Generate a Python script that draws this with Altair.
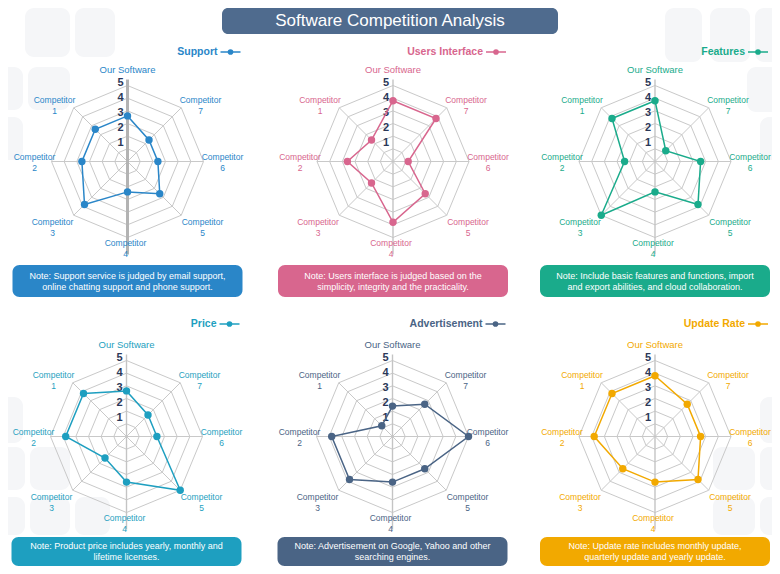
import math
import altair as alt
import pandas as pd

# ---------------- data ----------------
TITLE = "Software Competition Analysis"
AXES = ["Our Software", "Competitor\n1", "Competitor\n2", "Competitor\n3",
        "Competitor\n4", "Competitor\n5", "Competitor\n6", "Competitor\n7"]
SERIES = ["Support", "Users Interface", "Features", "Price", "Advertisement", "Update Rate"]
support = [3, 3, 3, 4, 2, 3, 2, 2]
users_interface = [4, 2, 3, 2, 4, 3, 1, 4]
features = [4, 4, 2, 5, 2, 4, 3, 1]
price = [3, 4, 4, 2, 3, 5, 2, 2]
advertisement = [2, 1, 4, 4, 3, 3, 5, 3]
update_rate = [4, 4, 4, 3, 3, 4, 3, 3]
VALUES = [support, users_interface, features, price, advertisement, update_rate]
RADIAL_TICKS = [1, 2, 3, 4, 5]
NOTES = [
    "Note: Support service is judged by email support,\nonline chatting support and phone support.",
    "Note: Users interface is judged based on the\nsimplicity, integrity and the practicality.",
    "Note: Include basic features and functions, import\nand export abilities, and cloud collaboration.",
    "Note: Product price includes yearly, monthly and\nlifetime licenses.",
    "Note: Advertisement on Google, Yahoo and other\nsearching engines.",
    "Note: Update rate includes monthly update,\nquarterly update and yearly update.",
]

# ---------------- styles / layout ----------------
COLORS = ["#2a86c8", "#d8668e", "#1aab8b", "#1e9fc0", "#4a6485", "#f2a900"]
CENTERS = [(127.5, 161.5), (393, 161.5), (655, 161.5),
           (126.5, 436.5), (392.5, 436.5), (655, 436.5)]
NOTE_Y = [(265, 297), (265, 297), (265, 297), (537, 566), (537, 566), (537, 566)]
LEG_Y = [52, 52, 52, 324, 324, 324]
R = 76.0
U = R / 5.0
NRINGS = 6
LABEL_OFF = [(0, -92), (-73, -56), (-93, 1), (-75, 66), (-2, 87), (75, 66), (95, 1), (73, -56)]
LAB_LH = 11.5
NOTE_LH = 11
FONT = "Liberation Sans"
GRID = "#c9c9c9"

DECO = [(25, 8, 70, 57), (75, 8, 115, 57), (0, 67, 23, 110), (28, 67, 70, 110), (0, 117, 23, 160),
        (665, 8, 702, 62), (710, 8, 750, 62), (755, 8, 780, 62), (747, 67, 780, 112), (760, 117, 780, 160),
        (760, 397, 780, 443), (713, 447, 755, 490), (760, 447, 780, 490), (713, 497, 755, 535),
        (760, 497, 780, 535),
        (0, 397, 23, 443), (0, 447, 25, 490), (30, 447, 70, 490), (0, 497, 25, 535), (30, 497, 70, 535),
        (75, 497, 110, 535)]


def ang(k):
    return -k * math.pi / 4.0


# ---------------- tables ----------------
deco_df = pd.DataFrame(DECO, columns=["x", "y", "x2", "y2"])

grid_rows, spoke_rows, vert_rows, poly_rows, pt_rows = [], [], [], [], []
tick_rows, lab_rows, leg_rows, note_rows = [], [], [], []
for p, (name, vals) in enumerate(zip(SERIES, VALUES)):
    cx, cy = CENTERS[p]
    col = COLORS[p]
    for j in range(1, NRINGS + 1):
        r = R * j / NRINGS
        for i in range(9):
            k = i % 8
            grid_rows.append(dict(ring=f"{p}-{j}", i=i, x=cx + r * math.sin(ang(k)),
                                  y=cy - r * math.cos(ang(k))))
    for k in [1, 2, 3, 5, 6, 7]:
        spoke_rows.append(dict(x=cx, y=cy, x2=cx + R * math.sin(ang(k)), y2=cy - R * math.cos(ang(k))))
    vert_rows.append(dict(x=cx, y=cy - 82, y2=cy + 93, sw=3 if name == "Support" else 1.4,
                          c="#b3b3b3" if name == "Support" else "#c4c4c4"))
    for i in range(9):
        k = i % 8
        v = vals[k]
        row = dict(panel=name, i=i, x=cx + v * U * math.sin(ang(k)),
                   y=cy - v * U * math.cos(ang(k)), c=col)
        poly_rows.append(row)
        if i < 8:
            pt_rows.append(row)
    for t in RADIAL_TICKS:
        tick_rows.append(dict(x=cx - 7, y=cy - t * U - 3, t=str(t)))
    for k, lab in enumerate(AXES):
        dx, dy = LABEL_OFF[k]
        nlines = lab.count("\n") + 1
        lab_rows.append(dict(x=cx + dx, y=cy + dy - (nlines - 1) * LAB_LH / 2, t=lab, c=col,
                             fs=9.5 if k == 0 else 8.5))
    ly = LEG_Y[p]
    leg_rows.append(dict(x=cx + 93, x2=cx + 113, xd=cx + 103, xt=cx + 90, y=ly, t=name, c=col))
    y0, y1 = NOTE_Y[p]
    nlines = NOTES[p].count("\n") + 1
    note_rows.append(dict(x=cx - 115, x2=cx + 115, y=y0, y2=y1, xc=cx,
                          yc=(y0 + y1) / 2 - (nlines - 1) * NOTE_LH / 2, t=NOTES[p], c=col))

grid_df = pd.DataFrame(grid_rows)
spoke_df = pd.DataFrame(spoke_rows)
vert_df = pd.DataFrame(vert_rows)
poly_df = pd.DataFrame(poly_rows)
pt_df = pd.DataFrame(pt_rows)
tick_df = pd.DataFrame(tick_rows)
lab_df = pd.DataFrame(lab_rows)
leg_df = pd.DataFrame(leg_rows)
note_df = pd.DataFrame(note_rows)
title_df = pd.DataFrame([dict(x=222, x2=558, y=8, y2=34, xc=390, yc=21, t=TITLE)])

# ---------------- scales ----------------
xs = alt.Scale(domain=[8, 772], nice=False, zero=False)
ys = alt.Scale(domain=[8, 566], nice=False, zero=False, reverse=True)


def X(f):
    return alt.X(f"{f}:Q", scale=xs, axis=None)


def Y(f):
    return alt.Y(f"{f}:Q", scale=ys, axis=None)


def C(f="c"):
    return alt.Color(f"{f}:N", scale=None, legend=None)


layers = []
layers.append(alt.Chart(deco_df).mark_rect(cornerRadius=9, color="#f5f6f8").encode(
    x=X("x"), x2="x2", y=Y("y"), y2="y2"))
layers.append(alt.Chart(title_df).mark_rect(cornerRadius=6, color="#4f6b8e").encode(
    x=X("x"), x2="x2", y=Y("y"), y2="y2"))
layers.append(alt.Chart(title_df).mark_text(font=FONT, fontSize=17, color="white",
                                            baseline="middle", align="center").encode(
    x=X("xc"), y=Y("yc"), text="t:N"))
layers.append(alt.Chart(grid_df).mark_line(color=GRID, strokeWidth=1).encode(
    x=X("x"), y=Y("y"), detail="ring:N", order=alt.Order("i:Q")))
layers.append(alt.Chart(spoke_df).mark_rule(color=GRID, strokeWidth=1).encode(
    x=X("x"), y=Y("y"), x2="x2", y2="y2"))
layers.append(alt.Chart(vert_df).mark_rule().encode(
    x=X("x"), y=Y("y"), y2="y2", color=C(),
    strokeWidth=alt.StrokeWidth("sw:Q", scale=None, legend=None)))
layers.append(alt.Chart(tick_df).mark_text(font=FONT, fontSize=11, fontWeight="bold", color="#2b3858",
                                           baseline="middle", align="center").encode(
    x=X("x"), y=Y("y"), text="t:N"))
layers.append(alt.Chart(poly_df).mark_line(strokeWidth=1.5).encode(
    x=X("x"), y=Y("y"), detail="panel:N", order=alt.Order("i:Q"), color=C()))
layers.append(alt.Chart(pt_df).mark_circle(size=55, opacity=1).encode(
    x=X("x"), y=Y("y"), color=C()))
layers.append(alt.Chart(lab_df).mark_text(font=FONT, baseline="middle", align="center",
                                          lineBreak="\n", lineHeight=LAB_LH).encode(
    x=X("x"), y=Y("y"), text="t:N", color=C(),
    size=alt.Size("fs:Q", scale=None, legend=None)))
layers.append(alt.Chart(leg_df).mark_rule(strokeWidth=1.5).encode(
    x=X("x"), x2="x2", y=Y("y"), color=C()))
layers.append(alt.Chart(leg_df).mark_circle(size=32, opacity=1).encode(
    x=X("xd"), y=Y("y"), color=C()))
layers.append(alt.Chart(leg_df).mark_text(font=FONT, fontSize=10.5, fontWeight="bold",
                                          baseline="middle", align="right").encode(
    x=X("xt"), y=Y("y"), text="t:N", color=C()))
layers.append(alt.Chart(note_df).mark_rect(cornerRadius=7).encode(
    x=X("x"), x2="x2", y=Y("y"), y2="y2", color=C()))
layers.append(alt.Chart(note_df).mark_text(font=FONT, fontSize=9, color="white", baseline="middle",
                                           align="center", lineBreak="\n", lineHeight=NOTE_LH).encode(
    x=X("xc"), y=Y("yc"), text="t:N"))

chart = alt.layer(*layers).properties(
    width=764, height=558, padding=0, autosize=alt.AutoSizeParams(type="none"),
    background="white"
).configure_view(stroke=None)

chart.save("out.html", embed_options={"renderer": "svg", "actions": False})
